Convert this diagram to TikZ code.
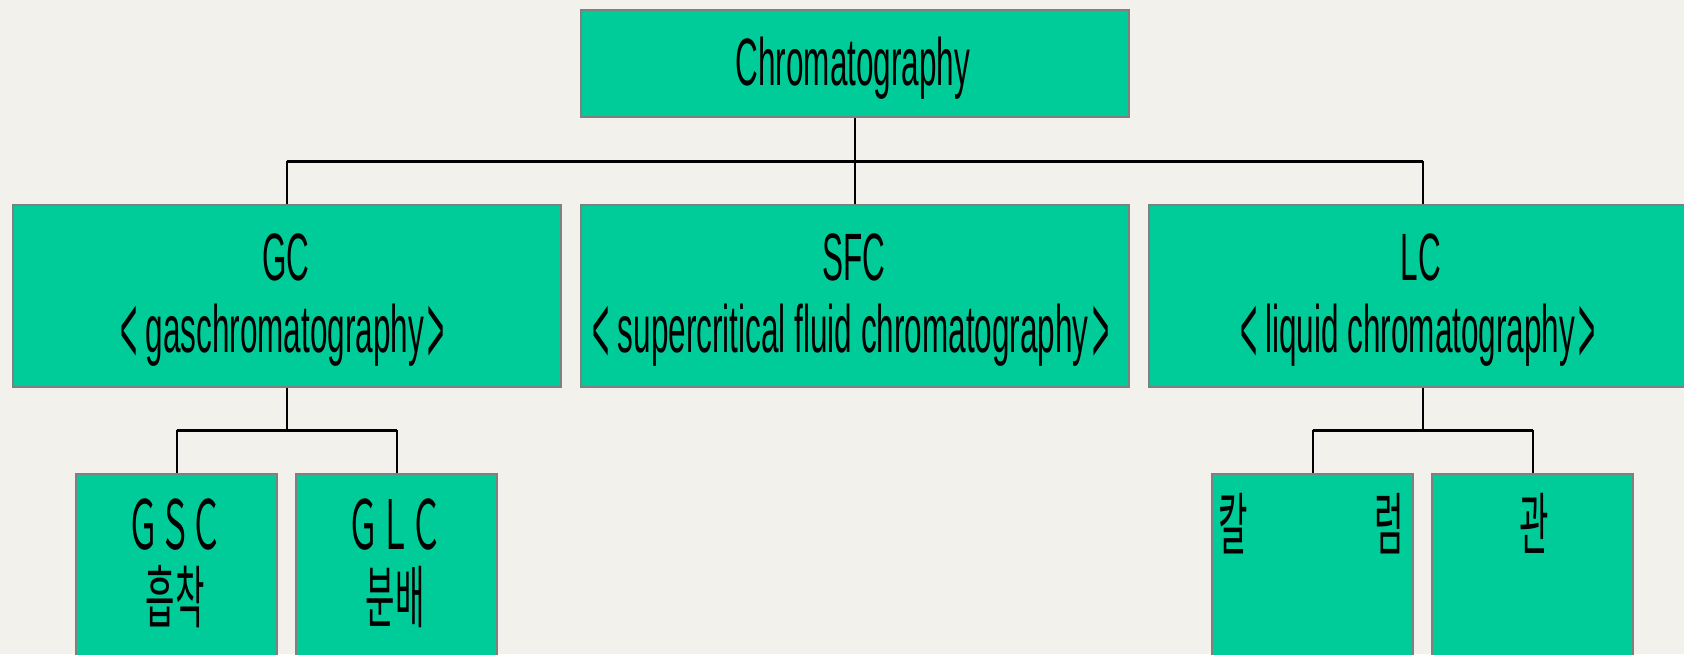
\documentclass[tikz,border=0pt]{standalone}
\usepackage{fontspec}
\usepackage{graphicx}
\newfontfamily\cond[FakeStretch=0.47]{Liberation Sans}
\newfontfamily\kr[FakeStretch=0.47]{Noto Sans CJK KR}
\newcommand{\lbr}{\raisebox{-5.6pt}{\scalebox{0.93}[1.47]{<}}\hspace{4pt}}
\newcommand{\rbr}{\hspace{1.7pt}\raisebox{-5.6pt}{\scalebox{0.93}[1.47]{>}}}
\definecolor{boxgreen}{RGB}{0,204,153}
\definecolor{paper}{RGB}{243,241,236}
\definecolor{edge}{RGB}{128,128,128}
\begin{document}
\begin{tikzpicture}[x=0.5pt,y=-0.5pt,
  box/.style={draw=edge, line width=1.1pt, fill=boxgreen, inner sep=0pt, anchor=north west},
  bigbox/.style={box, minimum width=274pt},
  smallbox/.style={box, minimum width=100.5pt, minimum height=113.5pt},
  lbl/.style={font=\cond\fontsize{33.5}{40}\selectfont, inner sep=0pt, anchor=base},
  klbl/.style={font=\kr\fontsize{34}{40}\selectfont, inner sep=0pt, anchor=base},
  vline/.style={line width=1pt, black},
  hline/.style={line width=1.5pt, black}]
\fill[paper] (0,0) rectangle (1684,654);
\clip (0,0) rectangle (1684,654);

% boxes
\node[bigbox, minimum height=53.5pt] (top) at (580,9) {};
\node[bigbox, minimum height=91pt] (gc) at (12,204) {};
\node[bigbox, minimum height=91pt] (sfc) at (580,204) {};
\node[bigbox, minimum height=91pt] (lc) at (1148,204) {};
\node[smallbox] (gsc) at (75,473) {};
\node[smallbox] (glc) at (295,473) {};
\node[smallbox] (col) at (1211,473) {};
\node[smallbox] (gwan) at (1431,473) {};

% connectors
\coordinate (bus1) at (0,161);
\coordinate (bus2) at (0,430);
\draw[vline] (top.south) -- (top.south |- bus1);
\draw[hline] (gc.north |- bus1) -- (lc.north |- bus1);
\draw[vline] (gc.north |- bus1) -- (gc.north);
\draw[vline] (sfc.north |- bus1) -- (sfc.north);
\draw[vline] (lc.north |- bus1) -- (lc.north);

\draw[vline] (gc.south) -- (gc.south |- bus2);
\draw[hline] (gsc.north |- bus2) -- (glc.north |- bus2);
\draw[vline] (gsc.north |- bus2) -- (gsc.north);
\draw[vline] (glc.north |- bus2) -- (glc.north);

\draw[vline] (lc.south) -- (lc.south |- bus2);
\draw[hline] (col.north |- bus2) -- (gwan.north |- bus2);
\draw[vline] (col.north |- bus2) -- (col.north);
\draw[vline] (gwan.north |- bus2) -- (gwan.north);

% texts
\node[lbl] (tTop) at (853,85) {Chromatography};
\node[lbl] (tGC) at (286,280) {GC};
\node[lbl] (tGC2) at (282.5,352) {\lbr gaschromatography\rbr};
\node[lbl] (tSFC) at (853.5,280) {SFC};
\node[lbl] (tSFC2) at (851,352) {\lbr supercritical fluid chromatography\rbr};
\node[lbl] (tLC) at (1421,280) {LC};
\node[lbl] (tLC2) at (1418,352) {\lbr liquid chromatography\rbr};

\node[klbl] (tGSC) at (175,549) {ＧＳＣ};
\node[klbl] (tGSC2) at (175,622) {흡착};
\node[klbl] (tGLC) at (395,549) {ＧＬＣ};
\node[klbl] (tGLC2) at (395,622) {분배};
\node[klbl] (tCol) at (1311,549) {\makebox[93pt][s]{칼\hfill 럼}};
\node[klbl] (tGwan) at (1534.5,549) {관};
\end{tikzpicture}
\end{document}
